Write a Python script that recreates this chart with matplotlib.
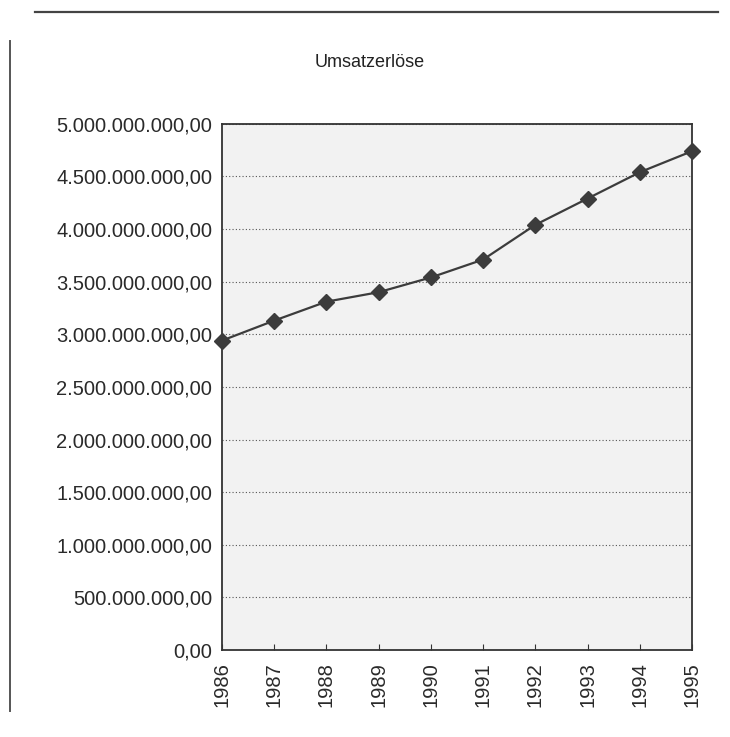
import matplotlib.pyplot as plt
from matplotlib.ticker import FuncFormatter, MultipleLocator
from matplotlib.lines import Line2D

plt.rcParams['font.family'] = ['Liberation Sans', 'DejaVu Sans']

years = ['1986', '1987', '1988', '1989', '1990', '1991', '1992', '1993', '1994', '1995']
umsatz = [2.94e9, 3.13e9, 3.31e9, 3.40e9, 3.54e9, 3.71e9, 4.04e9, 4.29e9, 4.54e9, 4.74e9]


def de_format(v, pos):
    s = '{:,.2f}'.format(v)
    return s.replace(',', 'X').replace('.', ',').replace('X', '.')


fig = plt.figure(figsize=(7.3, 7.37), dpi=100)
ax = fig.add_axes([0.304, 0.118, 0.644, 0.714])

ax.set_facecolor('#f2f2f2')
ax.plot(range(len(years)), umsatz, color='#3c3c3c', linewidth=1.6,
        marker='D', markersize=8, markerfacecolor='#3c3c3c', markeredgecolor='#3c3c3c',
        clip_on=False, zorder=3)

ax.set_xlim(0, len(years) - 1)
ax.set_ylim(0, 5e9)
ax.yaxis.set_major_locator(MultipleLocator(5e8))
ax.yaxis.set_major_formatter(FuncFormatter(de_format))
ax.set_xticks(range(len(years)))
ax.set_xticklabels(years, rotation=90)

ax.grid(axis='y', linestyle=(0, (1, 2)), color='#555555', linewidth=0.8)
ax.tick_params(axis='y', length=0, pad=7, labelsize=14.5, labelcolor='#2a2a2a')
ax.tick_params(axis='x', direction='in', length=4, pad=9, labelsize=14.5,
               labelcolor='#2a2a2a', color='#333333')
for sp in ax.spines.values():
    sp.set_color('#333333')
    sp.set_linewidth(1.3)

fig.text(0.507, 0.915, 'Umsatzerlöse', ha='center', va='center', fontsize=13, color='#222222')

# Rahmenlinien vom Scan
fig.add_artist(Line2D([0.048, 0.983], [0.984, 0.984], color='#444444', linewidth=1.6))
fig.add_artist(Line2D([0.014, 0.014], [0.035, 0.945], color='#555555', linewidth=1.4))

fig.savefig('out.png', dpi=100)
